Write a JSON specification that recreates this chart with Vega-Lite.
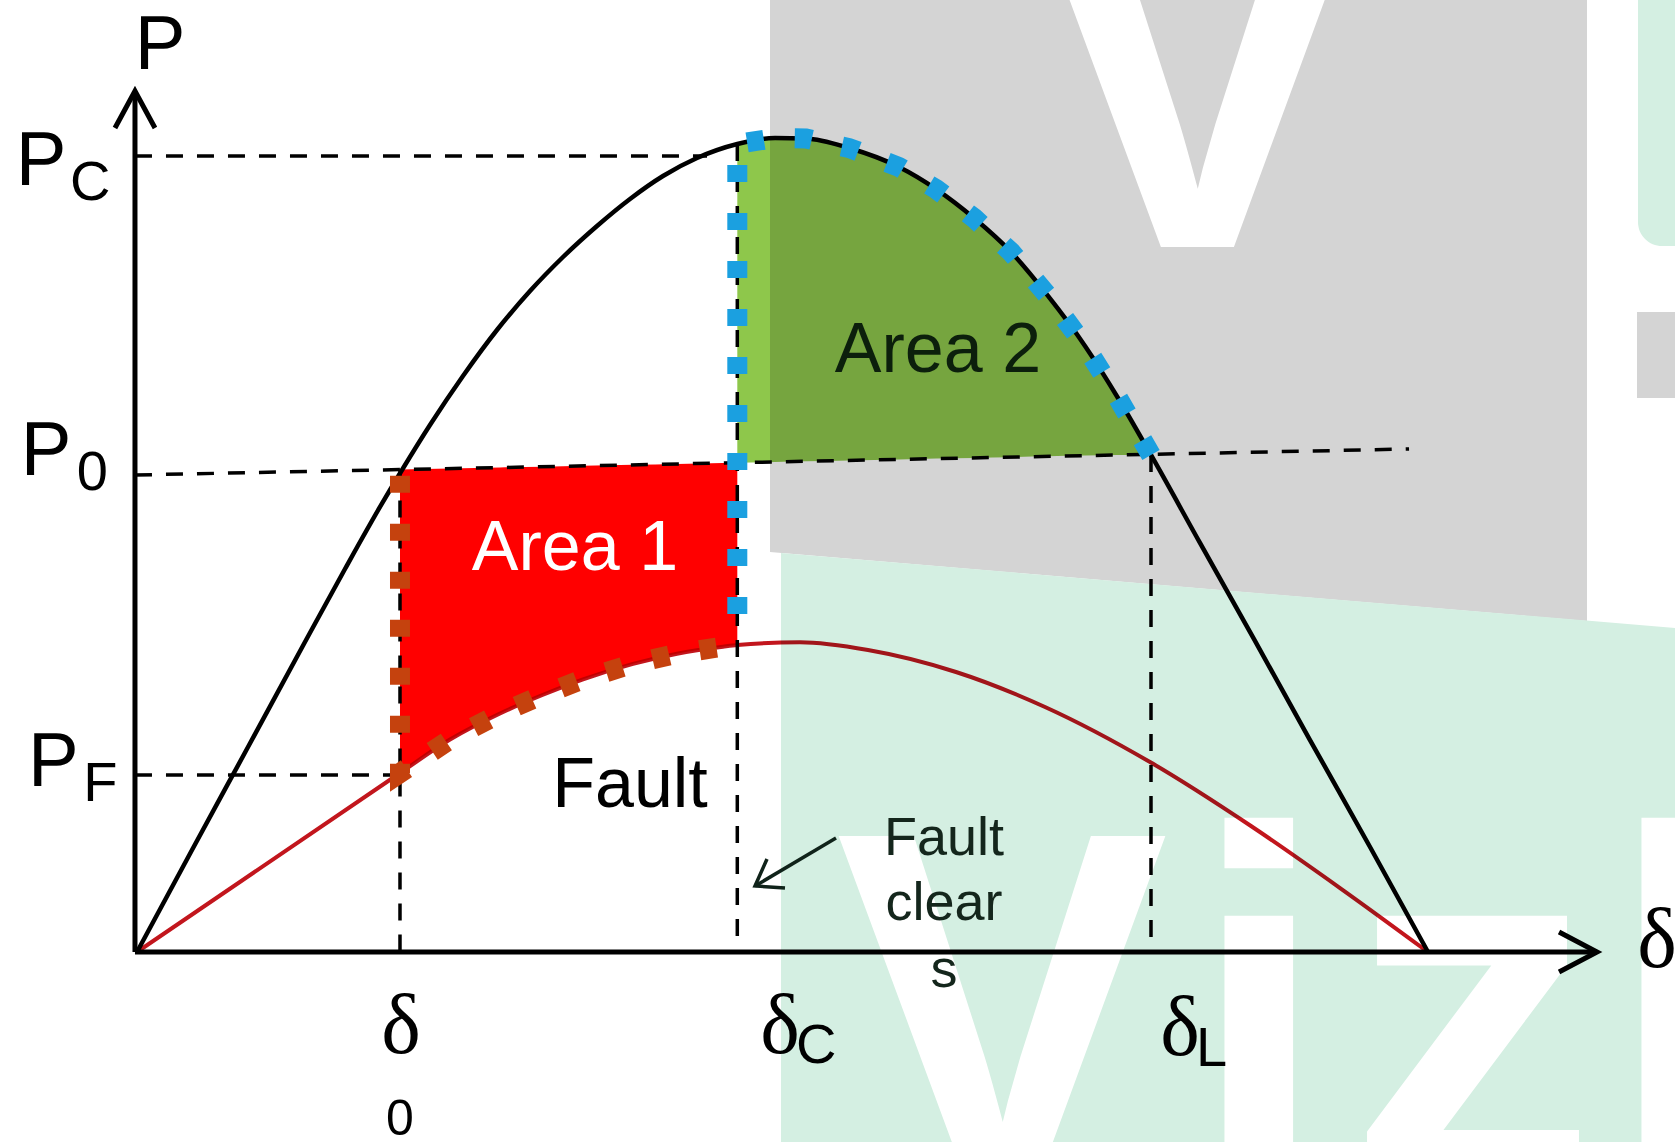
{
  "$schema": "https://vega.github.io/schema/vega-lite/v6.json",
  "width": 1675,
  "height": 1142,
  "autosize": "none",
  "padding": 0,
  "background": "white",
  "config": {"view": {"stroke": null}},
  "datasets": {
    "wmGray": [{"d": 88.26, "p": 1.2, "p2": 0.4914}, {"d": 202.17, "p": 1.2, "p2": 0.4066}],
    "wmMint": [{"d": 89.79, "p": 0.4902, "p2": -0.3}, {"d": 216, "p": 0.3969, "p2": -0.3}],
    "wmMintRect": [{"d": 209.28, "d2": 216, "p": 0.8673, "p2": 1.2}],
    "wmGrayRect": [{"d": 209.14, "d2": 216, "p": 0.6806, "p2": 0.7862}],
    "wmLetters": [
      {"t": "V", "d": 147.8, "p": 0.8661},
      {"t": "V", "d": 120.61, "p": -0.2801},
      {"t": "i", "d": 156.44, "p": -0.2801},
      {"t": "z", "d": 186.14, "p": -0.2801},
      {"t": "l", "d": 214.58, "p": -0.2801}
    ],
    "area1": [
      {"d": 36.67, "p": 0.5926, "p2": 0.2199},
      {"d": 43.64, "p": 0.5939, "p2": 0.261},
      {"d": 50.61, "p": 0.5951, "p2": 0.293},
      {"d": 56.61, "p": 0.5962, "p2": 0.316},
      {"d": 62.19, "p": 0.5972, "p2": 0.335},
      {"d": 69.16, "p": 0.5985, "p2": 0.354},
      {"d": 75.29, "p": 0.5996, "p2": 0.3665},
      {"d": 81.7, "p": 0.6007, "p2": 0.375},
      {"d": 83.7, "p": 0.6011, "p2": 0.3771}
    ],
    "area2": [
      {"d": 83.7, "p": 0.9926, "p2": 0.6011},
      {"d": 88.96, "p": 1.0, "p2": 0.602},
      {"d": 93.28, "p": 0.9994, "p2": 0.6028},
      {"d": 99.27, "p": 0.9877, "p2": 0.6039},
      {"d": 106.24, "p": 0.9644, "p2": 0.6051},
      {"d": 111.41, "p": 0.9373, "p2": 0.6061},
      {"d": 116.7, "p": 0.9017, "p2": 0.607},
      {"d": 121.86, "p": 0.86, "p2": 0.6079},
      {"d": 127.02, "p": 0.8059, "p2": 0.6089},
      {"d": 132.18, "p": 0.7445, "p2": 0.6098},
      {"d": 136.78, "p": 0.6806, "p2": 0.6106},
      {"d": 141.38, "p": 0.611, "p2": 0.611}
    ],
    "black": [
      {"d": 0, "p": 0},
      {"d": 7.67, "p": 0.1253},
      {"d": 15.48, "p": 0.2518},
      {"d": 23.42, "p": 0.3808},
      {"d": 29.0, "p": 0.4705},
      {"d": 33.88, "p": 0.5467},
      {"d": 36.95, "p": 0.5921},
      {"d": 40.85, "p": 0.6474},
      {"d": 45.45, "p": 0.7076},
      {"d": 50.19, "p": 0.7641},
      {"d": 54.8, "p": 0.812},
      {"d": 59.4, "p": 0.8538},
      {"d": 64.14, "p": 0.8919},
      {"d": 68.74, "p": 0.9251},
      {"d": 73.34, "p": 0.9533},
      {"d": 78.08, "p": 0.9754},
      {"d": 83.7, "p": 0.9926},
      {"d": 88.96, "p": 1.0},
      {"d": 93.28, "p": 0.9994},
      {"d": 99.27, "p": 0.9877},
      {"d": 106.24, "p": 0.9644},
      {"d": 111.41, "p": 0.9373},
      {"d": 116.7, "p": 0.9017},
      {"d": 121.86, "p": 0.86},
      {"d": 127.02, "p": 0.8059},
      {"d": 132.18, "p": 0.7445},
      {"d": 136.78, "p": 0.6806},
      {"d": 141.38, "p": 0.6106},
      {"d": 148.21, "p": 0.5025},
      {"d": 155.88, "p": 0.3821},
      {"d": 163.55, "p": 0.2604},
      {"d": 171.92, "p": 0.129},
      {"d": 180, "p": 0}
    ],
    "red": [
      {"d": 0, "p": 0},
      {"d": 36.67, "p": 0.2199},
      {"d": 43.64, "p": 0.261},
      {"d": 50.61, "p": 0.293},
      {"d": 56.61, "p": 0.316},
      {"d": 62.19, "p": 0.335},
      {"d": 69.16, "p": 0.354},
      {"d": 75.29, "p": 0.3665},
      {"d": 81.7, "p": 0.375},
      {"d": 83.7, "p": 0.3771},
      {"d": 92.44, "p": 0.3805},
      {"d": 101.92, "p": 0.371},
      {"d": 114.19, "p": 0.344},
      {"d": 126.6, "p": 0.301},
      {"d": 141.24, "p": 0.2334},
      {"d": 155.32, "p": 0.1548},
      {"d": 167.74, "p": 0.0786},
      {"d": 180, "p": 0}
    ],
    "dashed": [
      {"seg": "Pc", "o": 0, "d": -0.28, "p": 0.9779},
      {"seg": "Pc", "o": 1, "d": 79.48, "p": 0.9779},
      {"seg": "P0", "o": 0, "d": -0.28, "p": 0.586},
      {"seg": "P0", "o": 1, "d": 177.36, "p": 0.6179},
      {"seg": "PF", "o": 0, "d": -0.28, "p": 0.2175},
      {"seg": "PF", "o": 1, "d": 36.67, "p": 0.2175},
      {"seg": "d0", "o": 0, "d": 36.67, "p": 0.5926},
      {"seg": "d0", "o": 1, "d": 36.67, "p": 0},
      {"seg": "dC", "o": 0, "d": 83.7, "p": 0.9926},
      {"seg": "dC", "o": 1, "d": 83.7, "p": 0},
      {"seg": "dL", "o": 0, "d": 141.38, "p": 0.6106},
      {"seg": "dL", "o": 1, "d": 141.38, "p": 0}
    ],
    "axes": [
      {"seg": "y", "o": 0, "d": -0.28, "p": 0},
      {"seg": "y", "o": 1, "d": -0.28, "p": 1.0577},
      {"seg": "x", "o": 0, "d": -0.28, "p": 0},
      {"seg": "x", "o": 1, "d": 203.57, "p": 0},
      {"seg": "ya", "o": 0, "d": -3.07, "p": 1.0123},
      {"seg": "ya", "o": 1, "d": -0.28, "p": 1.0577},
      {"seg": "ya", "o": 2, "d": 2.51, "p": 1.0123},
      {"seg": "xa", "o": 0, "d": 198.27, "p": 0.0246},
      {"seg": "xa", "o": 1, "d": 203.57, "p": 0},
      {"seg": "xa", "o": 2, "d": 198.27, "p": -0.0246}
    ],
    "pointer": [
      {"seg": "shaft", "o": 0, "d": 97.46, "p": 0.14},
      {"seg": "shaft", "o": 1, "d": 86.17, "p": 0.0811},
      {"seg": "head", "o": 0, "d": 87.84, "p": 0.1143},
      {"seg": "head", "o": 1, "d": 86.17, "p": 0.0811},
      {"seg": "head", "o": 2, "d": 90.35, "p": 0.0786}
    ],
    "blueDots": [
      {"o": 0, "d": 141.38, "p": 0.6106},
      {"o": 1, "d": 136.78, "p": 0.6806},
      {"o": 2, "d": 132.18, "p": 0.7445},
      {"o": 3, "d": 127.02, "p": 0.8059},
      {"o": 4, "d": 121.86, "p": 0.86},
      {"o": 5, "d": 116.7, "p": 0.9017},
      {"o": 6, "d": 111.41, "p": 0.9373},
      {"o": 7, "d": 106.24, "p": 0.9644},
      {"o": 8, "d": 99.27, "p": 0.9877},
      {"o": 9, "d": 93.28, "p": 0.9994},
      {"o": 10, "d": 88.96, "p": 1.0},
      {"o": 11, "d": 83.7, "p": 0.9926},
      {"o": 12, "d": 83.7, "p": 0.408}
    ],
    "brownDots": [
      {"o": 0, "d": 36.67, "p": 0.585},
      {"o": 1, "d": 36.67, "p": 0.2199},
      {"o": 2, "d": 43.64, "p": 0.261},
      {"o": 3, "d": 50.61, "p": 0.293},
      {"o": 4, "d": 56.61, "p": 0.316},
      {"o": 5, "d": 62.19, "p": 0.335},
      {"o": 6, "d": 69.16, "p": 0.354},
      {"o": 7, "d": 75.29, "p": 0.3665},
      {"o": 8, "d": 81.7, "p": 0.375},
      {"o": 9, "d": 83.7, "p": 0.3771}
    ],
    "labels": [
      {"t": "P", "d": -0.3, "p": 1.0848, "role": "P"},
      {"t": "P", "d": -16.9, "p": 0.9423, "role": "P"},
      {"t": "C", "d": -9.34, "p": 0.9238, "role": "sub"},
      {"t": "P", "d": -16.2, "p": 0.586, "role": "P"},
      {"t": "0", "d": -8.4, "p": 0.5676, "role": "sub"},
      {"t": "P", "d": -15.2, "p": 0.2039, "role": "P"},
      {"t": "F", "d": -7.5, "p": 0.1855, "role": "sub"},
      {"t": "δ", "d": 36.81, "p": -0.1241, "role": "delta"},
      {"t": "0", "d": 36.67, "p": -0.2248, "role": "sub0"},
      {"t": "δ", "d": 89.65, "p": -0.1241, "role": "delta"},
      {"t": "C", "d": 91.89, "p": -0.1364, "role": "sub"},
      {"t": "δ", "d": 145.43, "p": -0.1265, "role": "delta"},
      {"t": "L", "d": 147.66, "p": -0.14, "role": "sub"},
      {"t": "δ", "d": 211.93, "p": -0.0184, "role": "delta"},
      {"t": "Area 1", "d": 61.07, "p": 0.4693, "role": "a1"},
      {"t": "Area 2", "d": 111.68, "p": 0.7125, "role": "a2"},
      {"t": "Fault", "d": 68.74, "p": 0.1781, "role": "fault"},
      {"t": "Fault", "d": 112.52, "p": 0.1192, "role": "fc"},
      {"t": "clear", "d": 112.52, "p": 0.0393, "role": "fc"},
      {"t": "s", "d": 112.52, "p": -0.043, "role": "fc"}
    ]
  },
  "encoding": {
    "x": {"field": "d", "type": "quantitative", "scale": {"domain": [-19.1, 214.44], "nice": false, "zero": false}, "axis": null},
    "y": {"field": "p", "type": "quantitative", "scale": {"domain": [-0.2334, 1.1695], "nice": false, "zero": false}, "axis": null}
  },
  "layer": [
    {"data": {"name": "wmGray"}, "mark": {"type": "area", "color": "#d4d4d4"}, "encoding": {"y2": {"field": "p2"}}},
    {"data": {"name": "wmMint"}, "mark": {"type": "area", "color": "#d4efe2"}, "encoding": {"y2": {"field": "p2"}}},
    {"data": {"name": "wmMintRect"}, "mark": {"type": "rect", "color": "#d4efe2", "cornerRadiusBottomLeft": 30}, "encoding": {"x2": {"field": "d2"}, "y2": {"field": "p2"}}},
    {"data": {"name": "wmGrayRect"}, "mark": {"type": "rect", "color": "#d4d4d4"}, "encoding": {"x2": {"field": "d2"}, "y2": {"field": "p2"}}},
    {"data": {"name": "wmLetters"}, "mark": {"type": "text", "font": "Liberation Sans", "fontWeight": "bold", "fontSize": 500, "color": "#ffffff", "align": "center", "baseline": "alphabetic"}, "encoding": {"text": {"field": "t"}}},
    {"data": {"name": "area1"}, "mark": {"type": "area", "color": "#ff0000", "interpolate": "monotone"}, "encoding": {"y2": {"field": "p2"}}},
    {"data": {"name": "area2"}, "mark": {"type": "area", "color": "#8ec74b", "interpolate": "monotone", "blend": "multiply"}, "encoding": {"y2": {"field": "p2"}}},
    {"data": {"name": "dashed"}, "mark": {"type": "line", "color": "#000000", "strokeWidth": 3.5, "strokeDash": [17, 14]}, "encoding": {"detail": {"field": "seg"}, "order": {"field": "o"}}},
    {"data": {"name": "red"}, "mark": {"type": "line", "color": "#c2161d", "strokeWidth": 4, "interpolate": "monotone", "blend": "multiply"}, "encoding": {}},
    {"data": {"name": "black"}, "mark": {"type": "line", "color": "#000000", "strokeWidth": 4.5, "interpolate": "monotone"}, "encoding": {}},
    {"data": {"name": "axes"}, "mark": {"type": "line", "color": "#000000", "strokeWidth": 5}, "encoding": {"detail": {"field": "seg"}, "order": {"field": "o"}}},
    {"data": {"name": "pointer"}, "mark": {"type": "line", "color": "#10231a", "strokeWidth": 3.5}, "encoding": {"detail": {"field": "seg"}, "order": {"field": "o"}}},
    {"data": {"name": "blueDots"}, "mark": {"type": "line", "color": "#1ba0e0", "strokeWidth": 20, "strokeDash": [17, 31], "strokeCap": "butt"}, "encoding": {"order": {"field": "o"}}},
    {"data": {"name": "brownDots"}, "mark": {"type": "line", "color": "#c5420e", "strokeWidth": 20, "strokeDash": [17, 31], "strokeCap": "butt"}, "encoding": {"order": {"field": "o"}}},
    {"data": {"name": "labels"}, "transform": [{"filter": "datum.role === 'P'"}], "mark": {"type": "text", "font": "Liberation Sans", "fontSize": 76, "color": "#000000", "align": "left", "baseline": "alphabetic"}, "encoding": {"text": {"field": "t"}}},
    {"data": {"name": "labels"}, "transform": [{"filter": "datum.role === 'sub'"}], "mark": {"type": "text", "font": "Liberation Sans", "fontSize": 56, "color": "#000000", "align": "left", "baseline": "alphabetic"}, "encoding": {"text": {"field": "t"}}},
    {"data": {"name": "labels"}, "transform": [{"filter": "datum.role === 'sub0'"}], "mark": {"type": "text", "font": "Liberation Sans", "fontSize": 50, "color": "#000000", "align": "center", "baseline": "alphabetic"}, "encoding": {"text": {"field": "t"}}},
    {"data": {"name": "labels"}, "transform": [{"filter": "datum.role === 'delta'"}], "mark": {"type": "text", "font": "Liberation Serif", "fontSize": 84, "color": "#000000", "align": "center", "baseline": "alphabetic"}, "encoding": {"text": {"field": "t"}}},
    {"data": {"name": "labels"}, "transform": [{"filter": "datum.role === 'a1'"}], "mark": {"type": "text", "font": "Liberation Sans", "fontSize": 70, "color": "#ffffff", "align": "center", "baseline": "alphabetic"}, "encoding": {"text": {"field": "t"}}},
    {"data": {"name": "labels"}, "transform": [{"filter": "datum.role === 'a2'"}], "mark": {"type": "text", "font": "Liberation Sans", "fontSize": 70, "color": "#0c1f0c", "align": "center", "baseline": "alphabetic"}, "encoding": {"text": {"field": "t"}}},
    {"data": {"name": "labels"}, "transform": [{"filter": "datum.role === 'fault'"}], "mark": {"type": "text", "font": "Liberation Sans", "fontSize": 70, "color": "#000000", "align": "center", "baseline": "alphabetic"}, "encoding": {"text": {"field": "t"}}},
    {"data": {"name": "labels"}, "transform": [{"filter": "datum.role === 'fc'"}], "mark": {"type": "text", "font": "Liberation Sans", "fontSize": 54, "color": "#14261c", "align": "center", "baseline": "alphabetic"}, "encoding": {"text": {"field": "t"}}}
  ]
}
